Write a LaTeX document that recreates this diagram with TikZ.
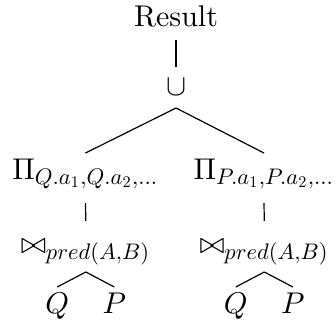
\documentclass[tikz,border=0pt]{standalone}
% math letters and digits at one design size, scaled in sub- and superscripts
\DeclareFontFamily{OML}{lcmm}{\skewchar\font127 }
\DeclareFontShape{OML}{lcmm}{m}{it}{<-> cmmi10}{}
\DeclareSymbolFont{letters}{OML}{lcmm}{m}{it}
\DeclareFontFamily{OT1}{lcmr}{\hyphenchar\font45 }
\DeclareFontShape{OT1}{lcmr}{m}{n}{<-> cmr10}{}
\DeclareSymbolFont{operators}{OT1}{lcmr}{m}{n}
\DeclareMathSizes{10}{10}{7.5}{5.4}
\tikzset{op/.style={inner sep=0pt, anchor=base}}
\begin{document}
\begin{tikzpicture}[x=1pt,y=1pt]
            \useasboundingbox (0,0) rectangle (111.67,-108);
            \node (res) at (58.67,-8.67) [op] {Result};
            \node (uni) at (58.67,-31.67) [op] {$\cup$};
            \node (projq) at (28.5,-59.67) [op] {$\Pi_{Q.a_1,Q.a_2,\dots}$};
            \node (projp) at (88,-59.67) [op] {$\Pi_{P.a_1,P.a_2,\dots}$};
            \node (joinq) at (28.6,-84.33) [op] {$\bowtie_{pred(A,B)}$};
            \node (joinp) at (88.1,-84.33) [op] {$\bowtie_{pred(A,B)}$};
            \node (lq) at (19.1,-104.33) [op] {$Q$};
            \node (lp) at (38.1,-104.33) [op] {$P$};
            \node (rq) at (78.6,-104.33) [op] {$Q$};
            \node (rp) at (97.6,-104.33) [op] {$P$};
            \draw ([yshift=-4.67pt]res.base) -- ([yshift=9.33pt]uni.base);
            \draw ([yshift=-4.33pt]uni.base) -- ([yshift=8.67pt]projq.base);
            \draw ([yshift=-4.33pt]uni.base) -- ([yshift=8.67pt]projp.base);
            \draw ([yshift=-8pt]projq.base) -- ([yshift=10.67pt]joinq.base);
            \draw ([yshift=-8pt]projp.base) -- ([yshift=10.67pt]joinp.base);
            \draw ([yshift=-6.33pt]joinq.base) -- ([yshift=8.67pt]lq.base);
            \draw ([yshift=-6.33pt]joinq.base) -- ([yshift=8.67pt]lp.base);
            \draw ([yshift=-6.33pt]joinp.base) -- ([yshift=8.67pt]rq.base);
            \draw ([yshift=-6.33pt]joinp.base) -- ([yshift=8.67pt]rp.base);
        \end{tikzpicture}
\end{document}
